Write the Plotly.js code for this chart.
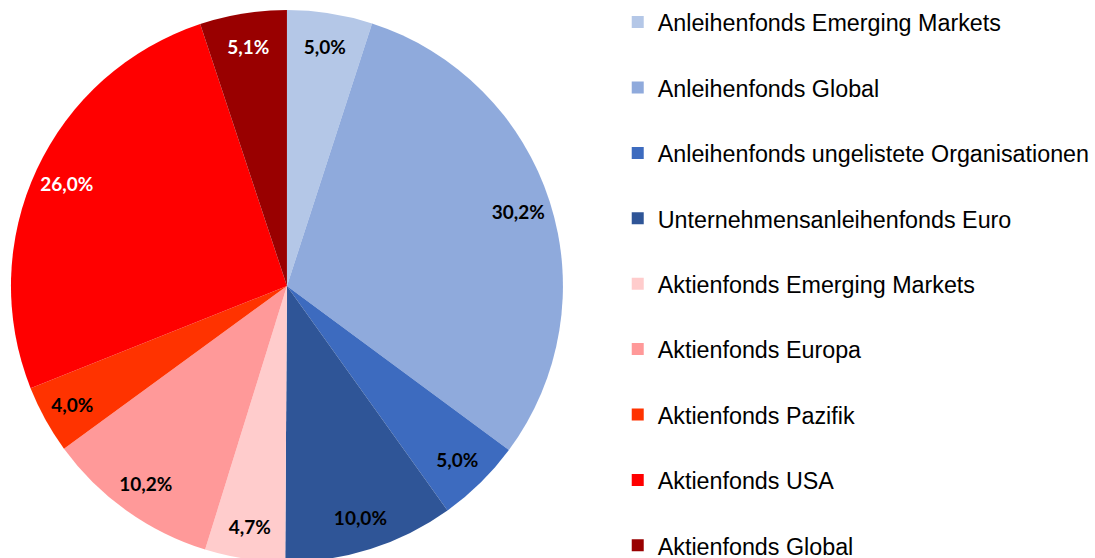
<!DOCTYPE html>
<html><head><meta charset="utf-8">
<script src="https://cdn.plot.ly/plotly-3.0.1.min.js"></script>
<style>html,body{margin:0;padding:0;overflow:hidden;background:#fff}#chart{width:1095px;height:600px}</style>
</head><body><div id="chart"></div>
<script>
const categories = [
  "Anleihenfonds Emerging Markets",
  "Anleihenfonds Global",
  "Anleihenfonds ungelistete Organisationen",
  "Unternehmensanleihenfonds Euro",
  "Aktienfonds Emerging Markets",
  "Aktienfonds Europa",
  "Aktienfonds Pazifik",
  "Aktienfonds USA",
  "Aktienfonds Global"
];
const shares = [5.0, 30.2, 5.0, 10.0, 4.7, 10.2, 4.0, 26.0, 5.1];
const sliceColors = ["#B4C7E7", "#8FAADC", "#3D6BBF", "#2F5597", "#FFCCCC", "#FF9999", "#FF3300", "#FF0000", "#990000"];
const labelColors = ["#000", "#000", "#000", "#000", "#000", "#000", "#000", "#fff", "#fff"];

const legendLabels = categories.map(c => "<span style='font-size:23.3px'>" + c + "</span><br> ");
const H = 600;
const pieDomain = {x: [11/1095, 565/1095], y: [1 - 563/H, 1 - 9/H]};

Plotly.newPlot("chart", [{
  type: "pie",
  labels: legendLabels,
  values: shares,
  sort: false,
  direction: "clockwise",
  rotation: 0,
  marker: {colors: sliceColors, line: {width: 0}},
  textinfo: "none",
  domain: pieDomain,
  hoverinfo: "skip"
}, {
  type: "pie",
  labels: legendLabels,
  values: shares,
  sort: false,
  direction: "clockwise",
  rotation: 0,
  hole: 0.76,
  showlegend: false,
  marker: {colors: sliceColors.map(() => "rgba(0,0,0,0)"), line: {width: 0}},
  texttemplate: "%{value:.1f}%",
  textposition: "inside",
  insidetextorientation: "horizontal",
  textfont: {family: "Lato, 'Open Sans', sans-serif", size: 19, color: labelColors, weight: "bold"},
  domain: pieDomain,
  hoverinfo: "skip"
}], {
  width: 1095, height: H,
  margin: {l: 0, r: 0, t: 0, b: 0},
  separators: ",.",
  paper_bgcolor: "#fff",
  showlegend: true,
  legend: {
    x: 620/1095, xanchor: "left", y: 1, yanchor: "top",
    maxheight: 1,
    font: {family: "'Liberation Sans', Arial, sans-serif", size: 24, color: "#000"},
    valign: "top",
    bgcolor: "rgba(0,0,0,0)"
  }
}, {displayModeBar: false, staticPlot: true});
</script></body></html>
